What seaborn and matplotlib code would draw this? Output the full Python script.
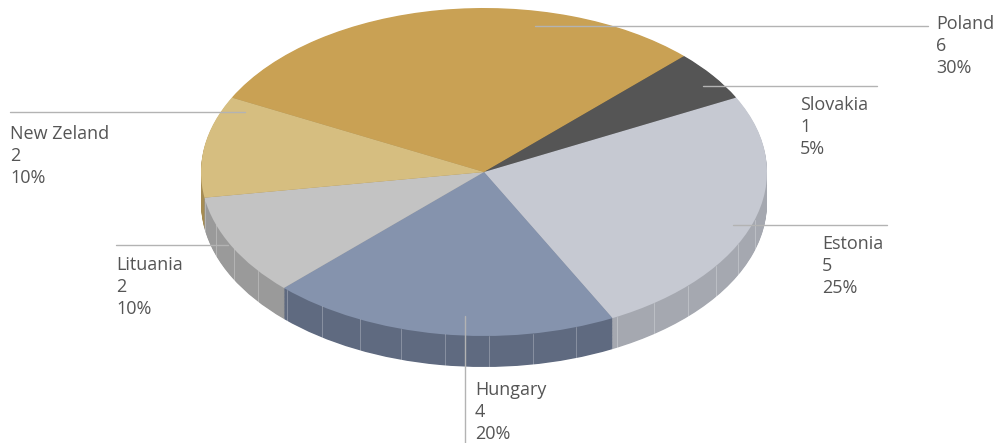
import numpy as np
import matplotlib
matplotlib.use("Agg")
import matplotlib.pyplot as plt
import seaborn as sns

# data
countries = ['Poland', 'Slovakia', 'Estonia', 'Hungary', 'Lituania', 'New Zeland']
counts = [6, 1, 5, 4, 2, 2]
top_colors = ['#c9a154', '#555555', '#c6c9d2', '#8593ad', '#c3c3c3', '#d6be80']
side_colors = ['#9f7f40', '#3c3c3c', '#a5a8b0', '#5f6a80', '#9a9a9a', '#a68c52']

sns.set_theme(style='white')
plt.rcParams['font.family'] = ['Open Sans', 'DejaVu Sans']

# pixel -> data helper (pie centre / radii in pixels)
CX, CY, RX, RY = 484, 172, 283, 164
def to_data(px, py):
    return (px - CX) / RX, (CY - py) / RY

fig = plt.figure(figsize=(9.99, 4.43), dpi=100)
ax = fig.add_axes([0, 0, 1, 1])

start = 153
depth = 31 / RY
layers = 40

# side wall: stacked darker pies
for k in range(layers, 0, -1):
    ax.pie(counts, startangle=start, counterclock=False, colors=side_colors,
           center=(0, -depth * k / layers), radius=1,
           wedgeprops=dict(linewidth=0, antialiased=True))

# facet lines on the visible side
for t in np.deg2rad(np.arange(190, 352, 9)):
    x, y = np.cos(t), np.sin(t)
    ax.plot([x, x], [y, y - depth], color='white', alpha=0.3, lw=0.6)

# top face
ax.pie(counts, startangle=start, counterclock=False, colors=top_colors,
       radius=1, wedgeprops=dict(linewidth=0))

ax.set_aspect('auto')
ax.set_xlim(to_data(0, 0)[0], to_data(999, 0)[0])
ax.set_ylim(to_data(0, 443)[1], to_data(0, 0)[1])
ax.axis('off')

total = sum(counts)
labels = {c: f"{c}\n{v}\n{v / total * 100:.0f}%" for c, v in zip(countries, counts)}

# leader lines (pixel coords) and label positions
leaders = {
    'Poland': ((535, 26), (928, 26), (936, 15)),
    'Slovakia': ((703, 86), (877, 86), (800, 96)),
    'Estonia': ((733, 225), (887, 225), (822, 235)),
    'Hungary': ((465, 316), (465, 443), (475, 381)),
    'Lituania': ((116, 245), (228, 245), (116, 256)),
    'New Zeland': ((10, 112), (245, 112), (10, 125)),
}
for c in countries:
    p0, p1, pt = leaders[c]
    x0, y0 = to_data(*p0)
    x1, y1 = to_data(*p1)
    ax.plot([x0, x1], [y0, y1], color='#b3b3b3', lw=1)
    tx, ty = to_data(*pt)
    ax.text(tx, ty, labels[c], ha='left', va='top', fontsize=13,
            color='#555555', linespacing=1.3)

fig.savefig('out.png', dpi=100)
